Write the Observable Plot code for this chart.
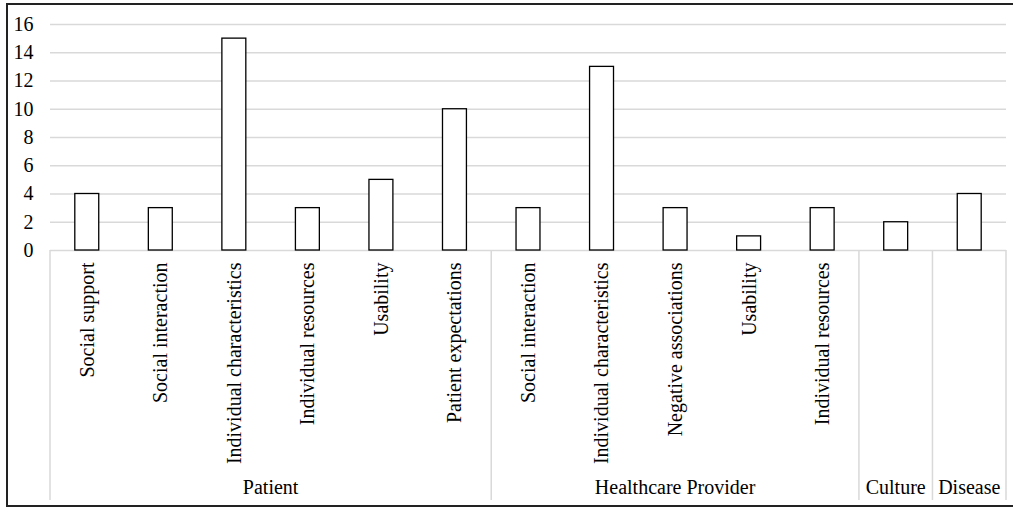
<!DOCTYPE html>
<html>
<head>
<meta charset="utf-8">
<script src="https://cdn.jsdelivr.net/npm/d3@7"></script>
<script src="https://cdn.jsdelivr.net/npm/@observablehq/plot@0.6"></script>
<style>
  body { margin: 0; background: #fff; overflow: hidden; }
  #wrap { position: relative; width: 1013px; height: 507px; overflow: hidden; }
  #frame { position: absolute; left: 6px; top: 3px; width: 1010px; height: 504px; border: 2.5px solid #222; border-right: none; box-sizing: border-box; pointer-events: none; }
</style>
</head>
<body>
<div id="wrap"><div id="frame"></div></div>
<script>
const categories = ["Social support","Social interaction","Individual characteristics","Individual resources","Usability","Patient expectations","Social interaction","Individual characteristics","Negative associations","Usability","Individual resources","",""];
const groups = ["Patient","Patient","Patient","Patient","Patient","Patient","Healthcare Provider","Healthcare Provider","Healthcare Provider","Healthcare Provider","Healthcare Provider","Culture","Disease"];
const values = [4,3,15,3,5,10,3,13,3,1,3,2,4];
const yTicks = [0,2,4,6,8,10,12,14,16];

const ids = d3.range(categories.length);
const data = ids.map(i => ({id: i, label: categories[i], group: groups[i], value: values[i]}));

// group spans built from the per-category group list
const spans = [];
groups.forEach((g, i) => {
  const last = spans[spans.length - 1];
  if (last && last.name === g) last.end = i; else spans.push({name: g, start: i, end: i});
});

const W = 1013, H = 507, mL = 50, mR = 7, mT = 24, mB = 257;
const FS = 20;

function groupLayer(index, scales, values, dims) {
  const x = scales.x, y = scales.y;
  const step = (dims.width - dims.marginLeft - dims.marginRight) / ids.length;
  const g = d3.create("svg:g");
  const y0 = y(0), yb = dims.height - 7;
  spans.forEach((s, k) => {
    const x0 = x(ids[s.start]);
    const x1 = x(ids[s.end]) + step;
    g.append("line").attr("x1", x0).attr("x2", x0).attr("y1", y0).attr("y2", yb)
      .attr("stroke", "#d9d9d9").attr("stroke-width", 1.5);
    if (k === spans.length - 1) {
      g.append("line").attr("x1", x1).attr("x2", x1).attr("y1", y0).attr("y2", yb)
        .attr("stroke", "#d9d9d9").attr("stroke-width", 1.5);
    }
    g.append("text").attr("x", (x0 + x1) / 2).attr("y", dims.height - 13)
      .attr("text-anchor", "middle").attr("font-size", FS).attr("fill", "#000")
      .attr("font-family", "Liberation Serif")
      .text(s.name);
  });
  return g.node();
}

const chart = Plot.plot({
  width: W, height: H,
  marginLeft: mL, marginRight: mR, marginTop: mT, marginBottom: mB,
  style: {fontFamily: "Liberation Serif", background: "transparent", color: "#000"},
  x: {type: "band", domain: ids, padding: 0, round: false, axis: null},
  y: {domain: [0, 16], axis: null},
  marks: [
    Plot.gridY(yTicks, {stroke: "#d9d9d9", strokeOpacity: 1, strokeWidth: 1.5}),
    Plot.axisY(yTicks, {tickSize: 0, tickPadding: 17, fontSize: FS, label: null, fill: "#000"}),
    Plot.axisX({tickFormat: i => categories[i], tickRotate: -90, tickSize: 0, tickPadding: 12, fontSize: FS, label: null, fill: "#000"}),
    Plot.barY(data, {x: "id", y: "value", fill: "#fff", stroke: "#000", strokeWidth: 1.3, insetLeft: 24.8, insetRight: 24.8}),
    groupLayer
  ]
});
document.getElementById("wrap").prepend(chart);
</script>
</body>
</html>
